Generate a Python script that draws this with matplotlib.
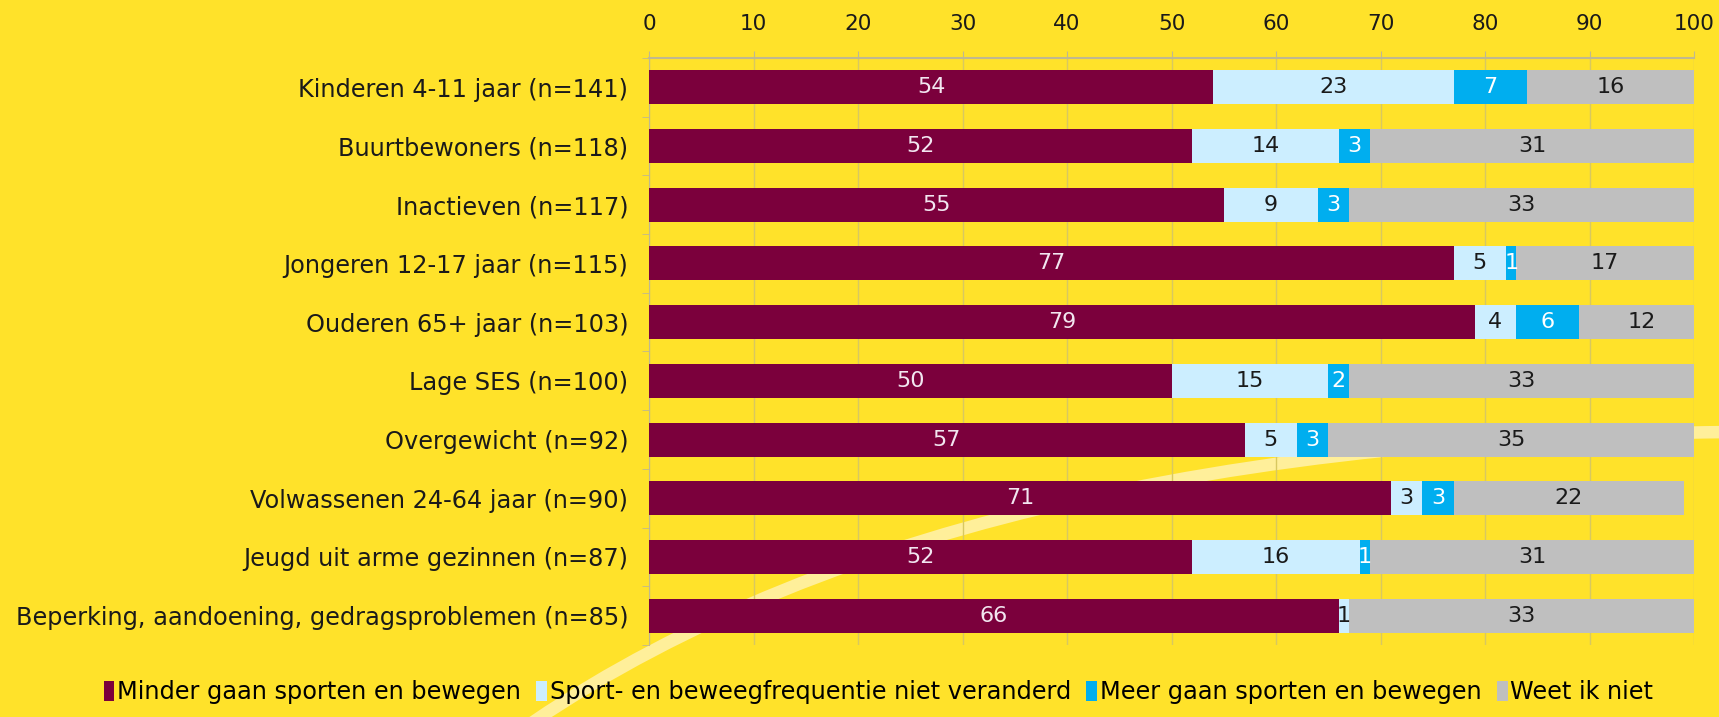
import matplotlib
matplotlib.use("Agg")
import matplotlib.pyplot as plt
import numpy as np
from matplotlib.path import Path
from matplotlib.patches import PathPatch

plt.rcParams['font.family'] = ['DejaVu Sans']

categories = [
    "Kinderen 4-11 jaar (n=141)",
    "Buurtbewoners (n=118)",
    "Inactieven (n=117)",
    "Jongeren 12-17 jaar (n=115)",
    "Ouderen 65+ jaar (n=103)",
    "Lage SES (n=100)",
    "Overgewicht (n=92)",
    "Volwassenen 24-64 jaar (n=90)",
    "Jeugd uit arme gezinnen (n=87)",
    "Beperking, aandoening, gedragsproblemen (n=85)",
]
series_names = [
    "Minder gaan sporten en bewegen",
    "Sport- en beweegfrequentie niet veranderd",
    "Meer gaan sporten en bewegen",
    "Weet ik niet",
]
minder = [54, 52, 55, 77, 79, 50, 57, 71, 52, 66]
gelijk = [23, 14, 9, 5, 4, 15, 5, 3, 16, 1]
meer = [7, 3, 3, 1, 6, 2, 3, 3, 1, 0]
weetniet = [16, 31, 33, 17, 12, 33, 35, 22, 31, 33]
xticks = [0, 10, 20, 30, 40, 50, 60, 70, 80, 90, 100]

colors = ["#7B003C", "#CCEEFF", "#00AEEF", "#BFBFBF"]
text_colors = ["#F2E6F0", "#1A1A1A", "#FFFFFF", "#1A1A1A"]
bg = "#FFE22A"

W, H = 1719, 717
fig = plt.figure(figsize=(W / 100, H / 100), dpi=100, facecolor=bg)

# decorative light curve in background (figure pixel coords)
def fx(x):
    return x / W
def fy(y):
    return 1 - y / H
verts = [(fx(480), fy(760)), (fx(900), fy(440)), (fx(1730), fy(432))]
path = Path(verts, [Path.MOVETO, Path.CURVE3, Path.CURVE3])
curve = PathPatch(path, transform=fig.transFigure, facecolor="none",
                  edgecolor="#FFEF9A", lw=9, zorder=-5)
fig.add_artist(curve)

ax = fig.add_axes([649 / W, 1 - 645 / H, (1694 - 649) / W, (645 - 58) / H])
ax.set_facecolor("none")
ax.set_zorder(2)

y = np.arange(len(categories))
data = [minder, gelijk, meer, weetniet]
left = np.zeros(len(categories))
for vals, col, tcol, name in zip(data, colors, text_colors, series_names):
    vals = np.array(vals, dtype=float)
    ax.barh(y, vals, left=left, height=0.58, color=col, label=name, zorder=3)
    for yi, l, v in zip(y, left, vals):
        if v > 0:
            ax.text(l + v / 2, yi, f"{int(v)}", ha="center", va="center",
                    color=tcol, fontsize=16, zorder=4)
    left += vals

ax.set_xlim(0, 100)
ax.set_ylim(len(categories) - 0.5, -0.5)
ax.xaxis.tick_top()
ax.set_xticks(xticks)
ax.set_xticklabels([str(t) for t in xticks], fontsize=15.5, color="#1A1A1A")
ax.tick_params(axis="x", length=5, color="#C0B890", pad=12)
ax.set_yticks(y)
ax.set_yticklabels(categories, fontsize=17.3, color="#1A1A1A")
ax.tick_params(axis="y", length=0, pad=15)
ax.set_yticks(np.arange(-0.5, len(categories), 1), minor=True)
ax.tick_params(axis="y", which="minor", length=5, color="#C0B890")
ax.grid(axis="x", color="#D8C860", lw=1, zorder=1)
for s in ["right", "bottom"]:
    ax.spines[s].set_visible(False)
ax.spines["top"].set_color("#C0B890")
ax.spines["left"].set_color("#C0B890")
ax.spines["top"].set_linewidth(1.5)

fig.legend(loc="center", bbox_to_anchor=(0.511, 1 - 692 / H), ncol=4,
           frameon=False, fontsize=17.3, handlelength=0.45, handleheight=0.9,
           handletextpad=0.1, columnspacing=0.65, borderaxespad=0)

fig.savefig("out.png", dpi=100, facecolor=bg)
